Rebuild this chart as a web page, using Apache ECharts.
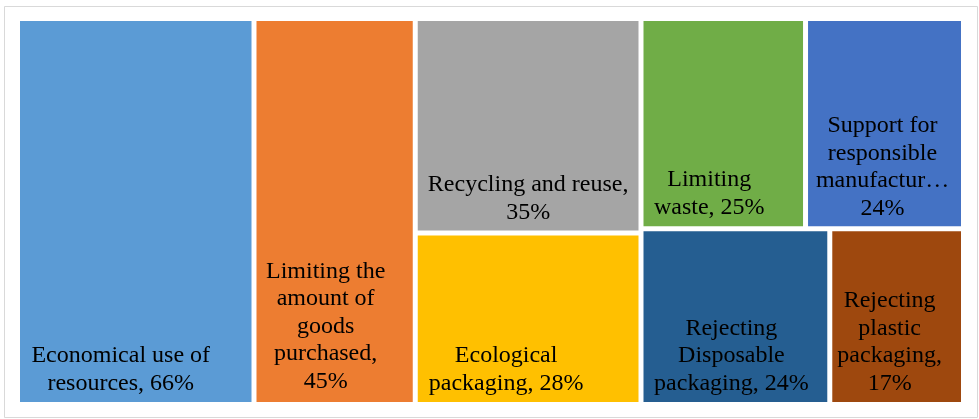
<!DOCTYPE html>
<html>
<head>
<meta charset="utf-8">
<script src="https://cdn.jsdelivr.net/npm/echarts@6/dist/echarts.min.js"></script>
<style>
  html, body { margin: 0; padding: 0; background: #ffffff; }
  #chart { width: 979px; height: 419px; }
</style>
</head>
<body>
<div id="chart"></div>
<script>
// Consumer attitudes, share of respondents (%)
const categories = [
  'Economical use of resources',
  'Limiting the amount of goods purchased',
  'Recycling and reuse',
  'Ecological packaging',
  'Limiting waste',
  'Support for responsible manufacturers',
  'Rejecting Disposable packaging',
  'Rejecting plastic packaging'
];
const values = [66, 45, 35, 28, 25, 24, 24, 17];

// Wrapped label text; {c} is filled in with the node value
const labelTemplates = [
  'Economical use of\nresources, {c}%',
  'Limiting the\namount of\ngoods\npurchased,\n{c}%',
  'Recycling and reuse,\n{c}%',
  'Ecological\npackaging, {c}%',
  'Limiting\nwaste, {c}%',
  'Support for\nresponsible\nmanufactur\u2026\n{c}%',
  'Rejecting\nDisposable\npackaging, {c}%',
  'Rejecting\nplastic\npackaging,\n{c}%'
];

// Tile grouping (indices into the arrays above)
const groups = [0, 1, [2, 3], [[4, 5], [6, 7]]];

// Styling
const colors = ['#5B9BD5', '#ED7D31', '#A5A5A5', '#FFC000', '#70AD47', '#4472C4', '#255E91', '#9E480E'];
const labelOffsetX = [-15, -9, 0, -22, -14, -2, -4, -7];
const labelDistance = [5, 7, 4, 5, 5, 4, 5, 5];

function leaf(i) {
  return {
    name: categories[i],
    value: values[i],
    itemStyle: { color: colors[i] },
    label: {
      formatter: labelTemplates[i],
      offset: [labelOffsetX[i], 0],
      distance: labelDistance[i]
    }
  };
}
function build(g) {
  if (typeof g === 'number') return leaf(g);
  const children = g.map(build);
  return {
    name: '',
    value: children.reduce((s, c) => s + c.value, 0),
    children: children
  };
}
const treeData = groups.map(build);

const chart = echarts.init(document.getElementById('chart'), null, { renderer: 'canvas' });
chart.setOption({
  backgroundColor: '#ffffff',
  animation: false,
  graphic: [{
    type: 'rect',
    shape: { x: 4.5, y: 6.5, width: 973, height: 411 },
    style: { fill: 'none', stroke: '#d9d9d9', lineWidth: 1 },
    silent: true
  }],
  series: [{
    type: 'treemap',
    left: 20,
    top: 21,
    width: 941,
    height: 381,
    sort: false,
    squareRatio: 1,
    roam: false,
    nodeClick: false,
    breadcrumb: { show: false },
    visibleMin: 0,
    childrenVisibleMin: 0,
    label: {
      show: true,
      position: 'insideBottom',
      align: 'center',
      padding: 0,
      color: '#000000',
      fontFamily: 'Liberation Serif',
      fontSize: 24,
      lineHeight: 27.5
    },
    upperLabel: { show: false },
    levels: [
      { itemStyle: { gapWidth: 5, borderWidth: 0, borderColor: '#ffffff' } },
      { itemStyle: { gapWidth: 5, borderWidth: 0, borderColor: '#ffffff' } },
      { itemStyle: { gapWidth: 5, borderWidth: 0, borderColor: '#ffffff' } },
      { itemStyle: { gapWidth: 5, borderWidth: 0, borderColor: '#ffffff' } }
    ],
    data: treeData
  }]
});
</script>
</body>
</html>
